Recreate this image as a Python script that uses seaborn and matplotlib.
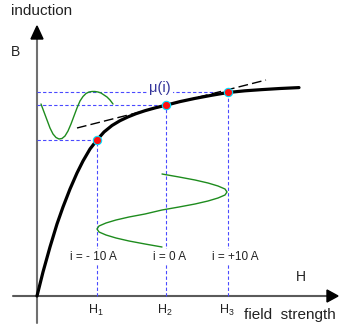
import matplotlib
matplotlib.use('Agg')
import matplotlib.pyplot as plt
import seaborn as sns

# magnetisation curve B(H) (pixel-like units, origin at axes cross)
curve_h = [0, 6, 13, 20, 26, 33, 40, 46, 53, 60, 67, 75, 83, 91, 99, 108, 118, 129,
           143, 158, 174, 191, 208, 225, 243, 262]
curve_b = [0, 24, 49, 72, 89, 107, 123, 135, 147, 156, 164, 170.5, 175.3, 179.1, 182.3,
           185.3, 188.1, 190.8, 194.4, 197.6, 200.6, 203.5, 205.2, 206.4, 207.5, 208.4]

# operating points for i = -10 A, 0 A, +10 A
op_h = [60, 129, 191]
op_b = [156, 191, 204]
op_labels = ['i = - 10 A', 'i = 0 A', 'i = +10 A']
h_ticks = ['H$_1$', 'H$_2$', 'H$_3$']

# tangent at the working point (mu(i))
tangent_h = [40, 229]
tangent_b = [168, 216]

# induction waveform (time runs to the right)
bwave_t = [4, 7, 10, 13, 16, 19, 22, 25, 28, 31, 34, 37, 40, 43, 46, 49, 52, 55, 58,
           61, 64, 67, 70, 73, 76]
bwave_b = [192, 184, 176, 168, 162, 158.5, 157, 157.5, 160, 165, 172, 180, 188, 195,
           199.5, 202.5, 204, 204.5, 204.5, 204, 203, 201, 199, 196, 192]

# field strength waveform (time runs downwards)
hwave_h = [125, 142, 158, 171, 181, 188, 190, 188, 181, 171, 158, 142, 125, 108, 92,
           79, 69, 62, 60, 62, 69, 79, 92, 108, 125]
hwave_t = [122, 119, 116, 113, 110, 107, 104, 101, 98, 95, 92, 89, 86, 82, 79, 76, 73,
           70, 67, 64, 61, 58, 55, 52, 49]

sns.set_style('white')
plt.rcParams['font.family'] = ['Liberation Sans', 'DejaVu Sans']
plt.rcParams['mathtext.fontset'] = 'custom'
plt.rcParams['mathtext.rm'] = 'Liberation Sans'
plt.rcParams['mathtext.it'] = 'Liberation Sans'

fig = plt.figure(figsize=(3.4, 3.24), dpi=100)
ax = fig.add_axes([0, 0, 1, 1])
ax.set_xlim(-37, 303)
ax.set_ylim(-28, 296)
ax.axis('off')

blue = '#4a4aff'
dash = (0, (3, 2))

# axes with arrow heads
ax.plot([0, 0], [-27, 258], color='#707070', lw=1.5, zorder=1)
ax.plot([-24, 291], [0, 0], color='#5a5a5a', lw=1.5, zorder=1)
ax.fill([0, -6, 6], [270, 257, 257], color='black', zorder=2)
ax.fill([301, 290, 290], [0, -6, 6], color='black', zorder=2)

# projection lines
for h, b in zip(op_h, op_b):
    ax.plot([0, h], [b, b], color=blue, lw=0.8, ls=dash, zorder=1)
    ax.plot([h, h], [0, b], color=blue, lw=0.8, ls=dash, zorder=1)

# waveforms
sns.lineplot(x=bwave_t, y=bwave_b, sort=False, estimator=None, color='#1e8c1e',
             lw=1.0, ax=ax, zorder=3)
sns.lineplot(x=hwave_h, y=hwave_t, sort=False, estimator=None, color='#1e8c1e',
             lw=1.0, ax=ax, zorder=3)

# tangent and curve
ax.plot(tangent_h, tangent_b, color='black', lw=1.0, ls=(0, (7, 3)), zorder=3)
sns.lineplot(x=curve_h, y=curve_b, sort=False, estimator=None, color='black',
             lw=2.3, ax=ax, zorder=4)
sns.scatterplot(x=op_h, y=op_b, color='#ff1010', edgecolor='#00e0ff', linewidth=0.8,
                s=36, ax=ax, zorder=5)

txt = '#222222'
box = dict(facecolor='white', edgecolor='none', pad=1.5)
ax.text(5, 285, 'induction', fontsize=11, ha='center', va='center', color=txt)
ax.text(-21, 244, 'B', fontsize=10, ha='center', va='center', color=txt)
ax.text(123, 208, 'μ(i)', fontsize=10.5, ha='center', va='center', color='#34349a',
        bbox=box, zorder=2)
for x, lab in zip([56, 133, 198], op_labels):
    ax.text(x, 39, lab, fontsize=8.5, ha='center', va='center', color=txt,
            bbox=box, zorder=2)
ax.text(264, 19, 'H', fontsize=10, ha='center', va='center', color=txt)
for h, lab in zip(op_h, h_ticks):
    ax.text(h - 1, -14, lab, fontsize=9, ha='center', va='center', color=txt)
ax.text(253, -19, 'field  strength', fontsize=11, ha='center', va='center', color=txt)

fig.savefig('out.png', dpi=100)
